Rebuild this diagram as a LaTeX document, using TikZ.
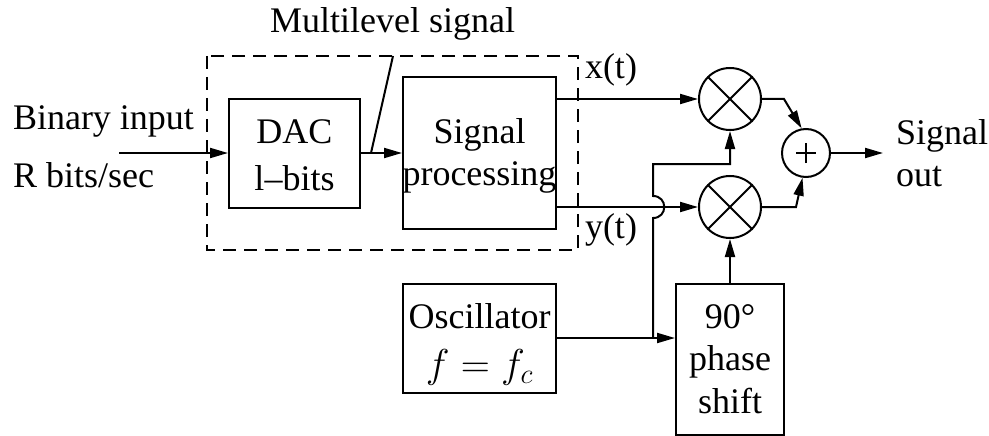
\documentclass[tikz,border=0pt]{standalone}
\usepackage{fix-cm}
\usepackage{graphicx}
\usepackage{fontspec}
\setmainfont{Liberation Serif}
\usetikzlibrary{arrows.meta}
\begin{document}
\begin{tikzpicture}[x=1pt,y=-1pt,line width=2pt,
  every node/.style={font=\fontsize{36}{42}\selectfont,inner sep=0pt},
  boxnode/.style={draw,rectangle,line width=2pt},
  mult/.style={draw,circle,minimum size=62pt,line width=2pt},
  txt/.style={anchor=base},
  arr/.style={-{Triangle[length=18pt,width=10pt]}}]
\useasboundingbox (0,0) rectangle (989,436);
% dashed enclosure
\draw[line width=1.8pt,dash pattern=on 13pt off 8pt] (207,56) rectangle (578,250);
% boxes
\node[boxnode,minimum width=131pt,minimum height=109pt] (dac) at (294.5,153.5) {};
\node[boxnode,minimum width=153pt,minimum height=152pt] (sp) at (479.5,153) {};
\node[boxnode,minimum width=153pt,minimum height=109pt] (osc) at (479.5,338.5) {};
\node[boxnode,minimum width=108pt,minimum height=151pt] (ph) at (730,359.5) {};
\node[mult] (m1) at (730,99) {};
\node[mult] (m2) at (730,207) {};
\node[draw,circle,minimum size=48pt,line width=2pt] (sum) at (806,153) {};
\draw[line width=1.8pt] ([xshift=-10pt]sum.center) -- ([xshift=10pt]sum.center);
\draw[line width=1.8pt] ([yshift=-10pt]sum.center) -- ([yshift=10pt]sum.center);
\foreach \m in {m1,m2}{
  \draw (\m.45) -- (\m.225);
  \draw (\m.135) -- (\m.315);
}
% texts
\node[txt,anchor=base west] (bin) at (12,129) {Binary input};
\node[txt,anchor=base west] (rb) at (12,187) {R bits/sec};
\node[txt] (dac1) at (294.5,143) {DAC};
\node[txt] (dac2) at (294.5,190) {l--bits};
\node[txt] (sp1) at (479.5,143) {Signal};
\node[txt] (sp2) at (479.5,185) {processing};
\node[txt,anchor=base west] (ml) at (269,33) {Multilevel signal};
\node[txt,anchor=base west] (xt) at (584,79) {x(t)};
\node[txt,anchor=base west] (yt) at (584,238) {y(t)};
\node[txt] (osc1) at (479.5,328) {Oscillator};
\node[txt] (osc2) at (479.5,377) {\scalebox{1.12}{$f=f_c$}};
\node[txt] (ph1) at (730,328) {90°};
\node[txt] (ph2) at (730,370) {phase};
\node[txt] (ph3) at (730,413) {shift};
\node[txt,anchor=base west] (so1) at (895,144) {Signal};
\node[txt,anchor=base west] (so2) at (895,186) {out};
% connectors
\coordinate (inp) at (119,153);
\draw[arr] (inp) -- (dac.west |- inp);
\draw[arr] (dac.east |- sp.west) -- (sp.west);
\coordinate (lf) at (371,153);
\coordinate (lt) at (393,56);
\draw (lf) -- (lt);
\draw[arr] (sp.east |- m1.west) -- (m1.west);
\draw[arr] (sp.east |- m2.west) -- (m2.west);
\coordinate (c1) at (784,99);
\coordinate (c2) at (796,207);
\draw[arr] (m1.east) -- (c1) -- (sum.100);
\draw[arr] (m2.east) -- (c2) -- (sum.262);
\coordinate (out) at (883,153);
\draw[arr] (sum.east) -- (out);
\draw[arr] (osc.east |- 0,338) -- (ph.west |- 0,338);
\coordinate (jb) at (653,338);
\coordinate (ja) at (653,218);
\coordinate (jc) at (653,196);
\coordinate (jt) at (653,164);
\draw[arr] (jb) -- (ja) .. controls (668,218) and (668,196) .. (jc) -- (jt) -- (m1.south |- jt) -- (m1.south);
\draw[arr] (ph.north) -- (m2.south);
\end{tikzpicture}
\end{document}
